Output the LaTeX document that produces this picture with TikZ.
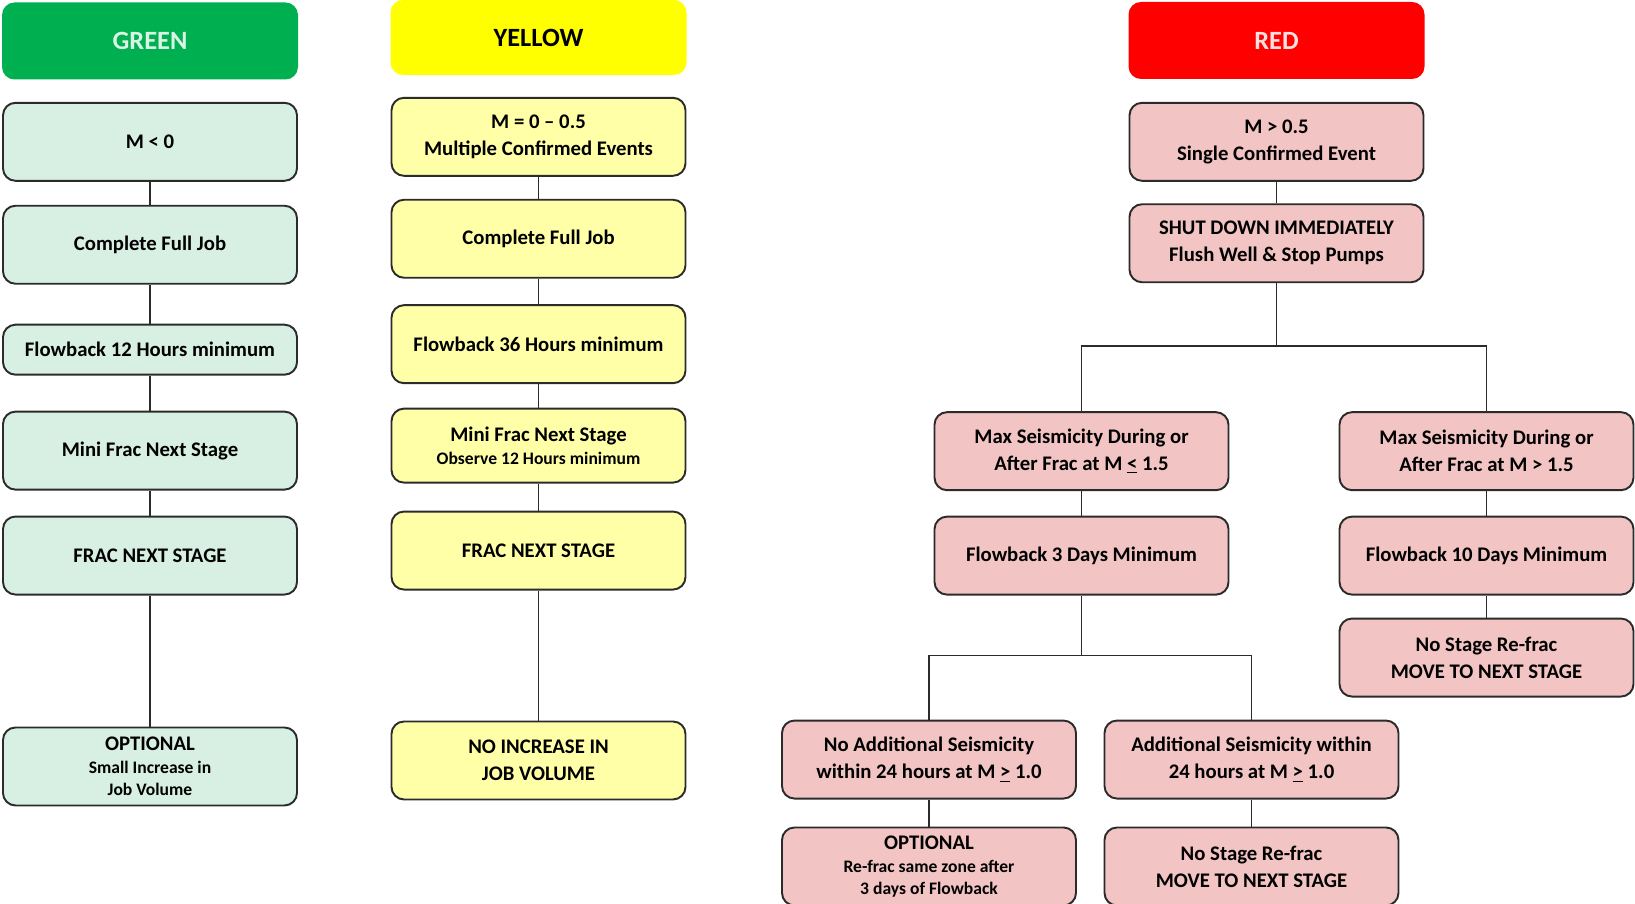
\documentclass[tikz,border=0pt]{standalone}
\usepackage{fontspec}
\setmainfont{Carlito}
\usepackage{xcolor}
\usetikzlibrary{positioning,calc}
\definecolor{tlsgreen}{HTML}{00B050}
\definecolor{tlsyellow}{HTML}{FFFF00}
\definecolor{tlsred}{HTML}{FF0000}
\definecolor{tlsmint}{HTML}{D8F0E4}
\definecolor{tlscream}{HTML}{FFFFA8}
\definecolor{tlspink}{HTML}{F2C4C4}
\definecolor{tlsline}{HTML}{2B2B2B}
\newcommand{\smtxt}{\fontsize{10}{12}\selectfont}

\begin{document}
\begin{tikzpicture}[
    hdr/.style={rectangle, rounded corners=2.5mm, minimum width=5.92cm, minimum height=1.54cm, font=\fontsize{15}{18}\selectfont\bfseries},
    cell/.style={rectangle, rounded corners=2.5mm, draw=tlsline, line width=1.1pt, minimum width=5.88cm, minimum height=1.56cm, align=center, inner sep=2pt, font=\fontsize{11.8}{15.4}\selectfont\bfseries},
    gbox/.style={cell, fill=tlsmint},
    ybox/.style={cell, fill=tlscream},
    rbox/.style={cell, fill=tlspink},
    link/.style={draw=tlsline, line width=0.9pt}
]
    \useasboundingbox (0,0) rectangle (32.7,-18.08);

    % Headers
    \node (hg) [hdr, fill=tlsgreen, text=white!85!tlsgreen] at (3.0,-0.82) {GREEN};
    \node (hy) [hdr, fill=tlsyellow, minimum height=1.5cm] at (10.77,-0.75) {YELLOW};
    \node (hr) [hdr, fill=tlsred, text=white!88!tlsred] at (25.53,-0.81) {RED};

    % Green column
    \node (g1) [gbox, below=0.44cm of hg] {M < 0};
    \node (g2) [gbox, below=0.46cm of g1] {Complete Full Job};
    \node (g3) [gbox, below=0.78cm of g2, minimum height=1.0cm] {Flowback 12 Hours minimum};
    \node (g4) [gbox, below=0.7cm of g3] {Mini Frac Next Stage};
    \node (g5) [gbox, below=0.5cm of g4] {FRAC NEXT STAGE};
    \node (g6) [gbox, below=2.62cm of g5] {OPTIONAL\\[-2.5pt]\smtxt Small Increase in\\[-3pt]\smtxt Job Volume};

    % Yellow column
    \node (y1) [ybox, below=0.43cm of hy] {M = 0 -- 0.5\\Multiple Confirmed Events};
    \node (y2) [ybox, below=0.44cm of y1] {Complete Full Job};
    \node (y3) [ybox, below=0.51cm of y2] {Flowback 36 Hours minimum};
    \node (y4) [ybox, below=0.47cm of y3, minimum height=1.48cm] {Mini Frac Next Stage\\[-2.5pt]\smtxt Observe 12 Hours minimum};
    \node (y5) [ybox, below=0.54cm of y4] {FRAC NEXT STAGE};
    \node (y6) [ybox, below=2.6cm of y5] {NO INCREASE IN\\JOB VOLUME};

    % Red column
    \node (r1) [rbox, below=0.45cm of hr] {M > 0.5\\Single Confirmed Event};
    \node (r2) [rbox, below=0.43cm of r1] {SHUT DOWN IMMEDIATELY\\Flush Well \& Stop Pumps};
    \node (r3) [rbox, below=2.56cm of r2, xshift=-3.9cm] {Max Seismicity During or\\After Frac at M \underline{<} 1.5};
    \node (r4) [rbox, below=2.56cm of r2, xshift=4.2cm] {Max Seismicity During or\\After Frac at M > 1.5};
    \node (r5) [rbox, below=0.49cm of r3] {Flowback 3 Days Minimum};
    \node (r6) [rbox, below=0.49cm of r4] {Flowback 10 Days Minimum};
    \node (r7) [rbox, below=0.44cm of r6] {No Stage Re-frac\\MOVE TO NEXT STAGE};
    \node (r8) [rbox, below=2.48cm of r5, xshift=-3.05cm] {No Additional Seismicity\\within 24 hours at M \underline{>} 1.0};
    \node (r9) [rbox, below=2.48cm of r5, xshift=3.4cm] {Additional Seismicity within\\24 hours at M \underline{>} 1.0};
    \node (r10) [rbox, below=0.54cm of r8] {OPTIONAL\\[-2.5pt]\smtxt Re-frac same zone after\\[-3pt]\smtxt 3 days of Flowback};
    \node (r11) [rbox, below=0.54cm of r9] {No Stage Re-frac\\MOVE TO NEXT STAGE};

    % Connectors
    \draw [link] (g1) -- (g2);
    \draw [link] (g2) -- (g3);
    \draw [link] (g3) -- (g4);
    \draw [link] (g4) -- (g5);
    \draw [link] (g5) -- (g6);

    \draw [link] (y1) -- (y2);
    \draw [link] (y2) -- (y3);
    \draw [link] (y3) -- (y4);
    \draw [link] (y4) -- (y5);
    \draw [link] (y5) -- (y6);

    \draw [link] (r1) -- (r2);
    \coordinate (fk1) at ($(r2.south)+(0,-1.26)$);
    \draw [link] (r2) -- (fk1);
    \draw [link] (r3) |- (fk1) -| (r4);
    \draw [link] (r3) -- (r5);
    \draw [link] (r4) -- (r6);
    \draw [link] (r6) -- (r7);
    \coordinate (fk2) at ($(r5.south)+(0,-1.2)$);
    \draw [link] (r5) -- (fk2);
    \draw [link] (r8) |- (fk2) -| (r9);
    \draw [link] (r8) -- (r10);
    \draw [link] (r9) -- (r11);
\end{tikzpicture}
\end{document}
